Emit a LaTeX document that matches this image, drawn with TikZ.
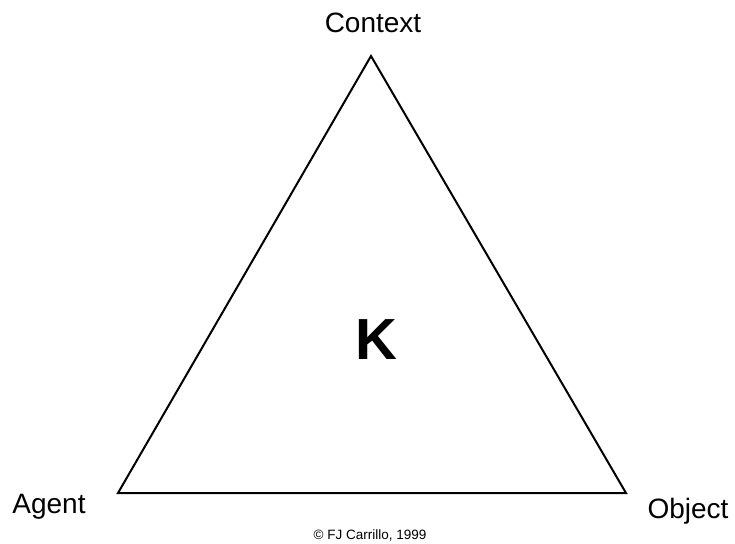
\documentclass[tikz,border=0pt]{standalone}
\usepackage{fontspec}
\setmainfont{Liberation Sans}
\usepackage{tikz}
\usetikzlibrary{positioning}
\tikzset{
  cornerlabel/.style={inner sep=0pt, font=\fontsize{28}{32}\selectfont},
  centerlabel/.style={inner sep=0pt, font=\fontsize{58}{62}\selectfont\bfseries},
  creditlabel/.style={inner sep=0pt, font=\fontsize{13.5}{16}\selectfont},
  triedge/.style={line width=2pt, line join=miter}
}
\begin{document}
\begin{tikzpicture}[x=1pt,y=-1pt]
\useasboundingbox (0,0) rectangle (735,543);
\coordinate (top) at (371,56);
\coordinate (left) at (118,493);
\coordinate (right) at (626,493);
\draw[triedge] (top) -- (left) -- (right) -- cycle;
\node[cornerlabel] (context) at (373,23) {Context};
\node[cornerlabel] (agent) at (49,507) {Agent};
\node[cornerlabel] (object) at (688,511) {Object};
\node[centerlabel] (k) at (376,340) {K};
\node[creditlabel] (credit) at (370,535) {© FJ Carrillo, 1999};
\end{tikzpicture}
\end{document}
